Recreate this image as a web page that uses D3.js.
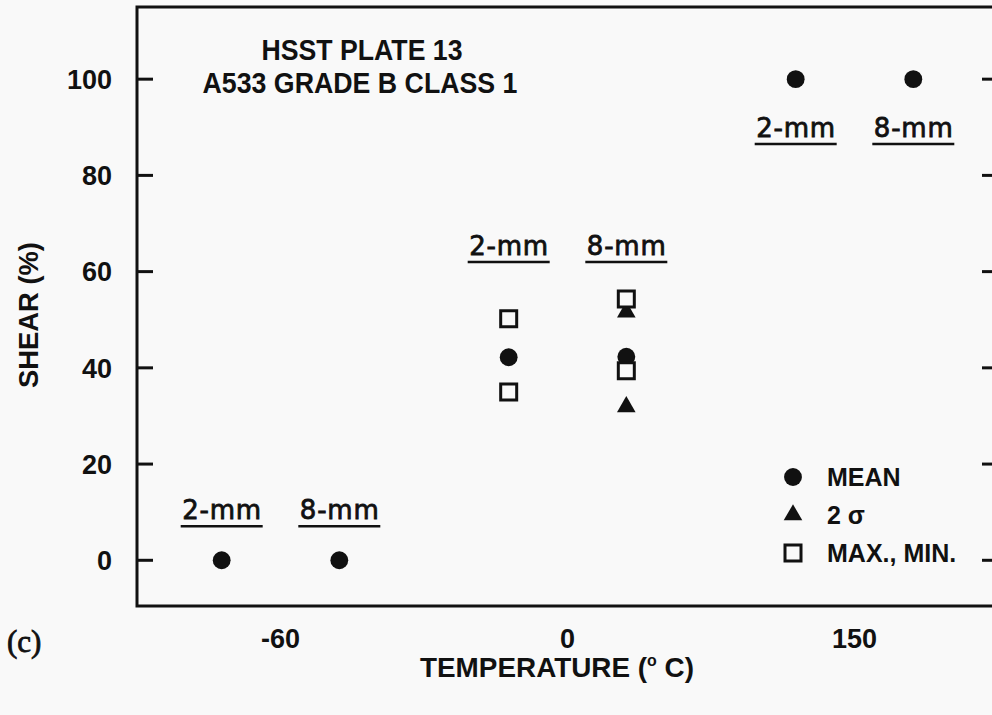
<!DOCTYPE html>
<html>
<head>
<meta charset="utf-8">
<script src="https://cdn.jsdelivr.net/npm/d3@7"></script>
<style>
  body { margin: 0; background: #f9f9f9; }
  svg { display: block; }
  text { font-family: "Liberation Sans", Arial, sans-serif; font-weight: bold; fill: #111; }
  text.mm { font-family: "DejaVu Sans", sans-serif; font-weight: normal; stroke: #111; stroke-width: 0.8; }
  text.panel { font-family: "Liberation Serif", "Times New Roman", serif; font-weight: normal; stroke: #111; stroke-width: 0.8; }
</style>
</head>
<body>
<div id="chart"></div>
<script>
/* Data */
const temperatures = [-60, 0, 150]
const specimenSizes = ["2-mm", "8-mm"]
const yTicks = [0, 20, 40, 60, 80, 100]

// [temperature, specimen, shear %]
const meanValues = [
  [-60, "2-mm", 0], [-60, "8-mm", 0],
  [0, "2-mm", 42.2], [0, "8-mm", 42.3],
  [150, "2-mm", 100], [150, "8-mm", 100],
]
const twoSigmaValues = [
  [0, "8-mm", 51.6], [0, "8-mm", 31.9],
]
const maxMinValues = [
  [0, "2-mm", 50.2], [0, "2-mm", 35],
  [0, "8-mm", 54.3], [0, "8-mm", 39.4],
]
// level (shear %) of the underlined specimen labels for each temperature group
const labelLevels = [
  [-60, 7.1], [0, 62], [150, 86.5],
]
const legendItems = [
  { symbol: "circle", label: "MEAN" },
  { symbol: "triangle", label: "2 σ" },
  { symbol: "square", label: "MAX., MIN." },
]
/* End Data */

const width = 992
const height = 715
const frame = { left: 137, right: 998, top: 7, bottom: 606 }

const svg = d3.select("#chart").append("svg")
    .attr("width", width)
    .attr("height", height)

const x = d3.scaleBand()
    .domain(temperatures)
    .range([frame.left, frame.right])

const xInner = d3.scalePoint()
    .domain(specimenSizes)
    .range([0, x.bandwidth()])
    .padding(0.72)

const y = d3.scaleLinear()
    .domain([-9.5, 115])
    .range([frame.bottom, frame.top])

const px = (t, s) => x(t) + xInner(s)

// frame
svg.append("rect")
    .attr("x", frame.left)
    .attr("y", frame.top)
    .attr("width", frame.right - frame.left)
    .attr("height", frame.bottom - frame.top)
    .attr("fill", "none")
    .attr("stroke", "#111")
    .attr("stroke-width", 3)

// inner ticks left and right
const tickLen = 16
svg.append("g").selectAll("line")
    .data(yTicks)
    .join("line")
    .attr("x1", frame.left)
    .attr("x2", frame.left + tickLen)
    .attr("y1", d => y(d))
    .attr("y2", d => y(d))
    .attr("stroke", "#111")
    .attr("stroke-width", 3)

svg.append("g").selectAll("line")
    .data(yTicks)
    .join("line")
    .attr("x1", frame.right - tickLen)
    .attr("x2", frame.right)
    .attr("y1", d => y(d))
    .attr("y2", d => y(d))
    .attr("stroke", "#111")
    .attr("stroke-width", 3)

// y tick labels
svg.append("g").selectAll("text")
    .data(yTicks)
    .join("text")
    .attr("x", 112)
    .attr("y", d => y(d))
    .attr("dy", "0.36em")
    .attr("text-anchor", "end")
    .attr("font-size", 27)
    .text(d => d)

// x tick labels
svg.append("g").selectAll("text")
    .data(temperatures)
    .join("text")
    .attr("x", d => x(d) + x.bandwidth() / 2)
    .attr("y", 648)
    .attr("text-anchor", "middle")
    .attr("font-size", 27)
    .text(d => d)

// axis titles
svg.append("text")
    .attr("transform", "translate(38,315) rotate(-90)")
    .attr("text-anchor", "middle")
    .attr("font-size", 27)
    .attr("textLength", 146)
    .attr("lengthAdjust", "spacingAndGlyphs")
    .text("SHEAR (%)")

const xTitle = svg.append("text")
    .attr("x", 557)
    .attr("y", 677)
    .attr("text-anchor", "middle")
    .attr("font-size", 28)
    .attr("textLength", 274)
    .attr("lengthAdjust", "spacingAndGlyphs")
xTitle.append("tspan").text("TEMPERATURE (")
xTitle.append("tspan").attr("font-size", 16).attr("dy", -11).text("o")
xTitle.append("tspan").attr("dy", 11).text(" C)")

svg.append("text")
    .attr("class", "panel")
    .attr("x", 7)
    .attr("y", 652)
    .attr("font-size", 31)
    .text("(c)")

// plot title
svg.append("text")
    .attr("x", 362)
    .attr("y", 60)
    .attr("text-anchor", "middle")
    .attr("font-size", 30)
    .attr("textLength", 201)
    .attr("lengthAdjust", "spacingAndGlyphs")
    .text("HSST PLATE 13")

svg.append("text")
    .attr("x", 360)
    .attr("y", 93)
    .attr("text-anchor", "middle")
    .attr("font-size", 29)
    .attr("textLength", 315)
    .attr("lengthAdjust", "spacingAndGlyphs")
    .text("A533 GRADE B CLASS 1")

// underlined specimen labels
const labelRows = labelLevels.flatMap(([t, level]) => specimenSizes.map(s => ({ t, s, level })))
const labels = svg.append("g").selectAll("g")
    .data(labelRows)
    .join("g")
    .attr("transform", d => `translate(${px(d.t, d.s)},${y(d.level)})`)

labels.append("text")
    .attr("class", "mm")
    .attr("y", -7)
    .attr("text-anchor", "middle")
    .attr("font-size", 26)
    .attr("textLength", 79)
    .attr("lengthAdjust", "spacing")
    .text(d => d.s)

labels.append("line")
    .attr("x1", -41)
    .attr("x2", 41)
    .attr("stroke", "#111")
    .attr("stroke-width", 2.5)

// markers
const symbolPath = {
  circle: d3.symbol(d3.symbolCircle, 250)(),
  triangle: d3.symbol(d3.symbolTriangle, 150)(),
  square: "M-8,-8H8V8H-8Z",
}

const drawMarker = (sel, kind) => {
  sel.attr("d", symbolPath[kind])
  if (kind === "square") {
    sel.attr("fill", "#f9f9f9").attr("stroke", "#111").attr("stroke-width", 3)
  } else {
    sel.attr("fill", "#111")
  }
}

const markerLayer = svg.append("g")
markerLayer.selectAll(".tri")
    .data(twoSigmaValues)
    .join("path")
    .attr("class", "tri")
    .attr("transform", d => `translate(${px(d[0], d[1])},${y(d[2])})`)
    .call(drawMarker, "triangle")

markerLayer.selectAll(".mean")
    .data(meanValues)
    .join("path")
    .attr("class", "mean")
    .attr("transform", d => `translate(${px(d[0], d[1])},${y(d[2])})`)
    .call(drawMarker, "circle")

markerLayer.selectAll(".maxmin")
    .data(maxMinValues)
    .join("path")
    .attr("class", "maxmin")
    .attr("transform", d => `translate(${px(d[0], d[1])},${y(d[2])})`)
    .call(drawMarker, "square")

// legend
const legend = svg.append("g")
    .attr("transform", "translate(793,477)")

const legendRow = legend.selectAll("g")
    .data(legendItems)
    .join("g")
    .attr("transform", (d, i) => `translate(0,${i * 38})`)

legendRow.append("path")
    .each(function(d) { d3.select(this).call(drawMarker, d.symbol) })

legendRow.append("text")
    .attr("x", 34)
    .attr("dy", "0.36em")
    .attr("font-size", 25)
    .text(d => d.label)
</script>
</body>
</html>
